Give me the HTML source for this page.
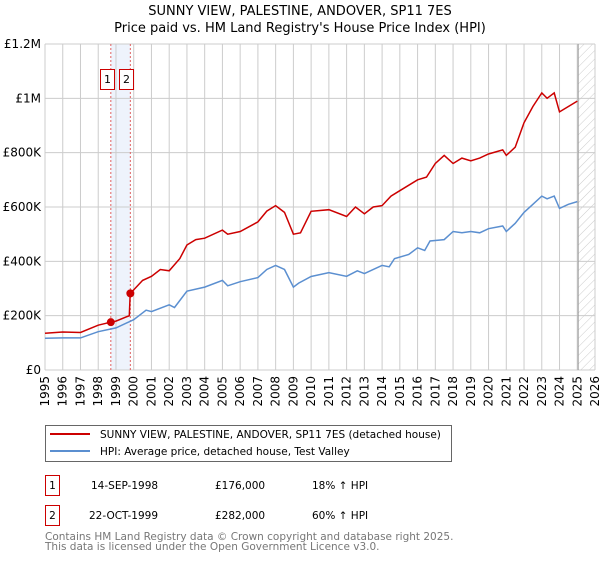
<!DOCTYPE html>
<html><head><meta charset="utf-8"><style>
body{margin:0;background:#fff;font-family:"Liberation Sans","DejaVu Sans",sans-serif}
svg text{font-family:"DejaVu Sans","Liberation Sans",sans-serif}
</style></head><body>
<svg id="chart" width="600" height="560" xmlns="http://www.w3.org/2000/svg">
<defs><pattern id="hatch" width="6" height="6" patternUnits="userSpaceOnUse" patternTransform="rotate(45)"><line x1="0" y1="0" x2="0" y2="6" stroke="#ccc" stroke-width="1"/></pattern></defs>
<text x="300" y="15" text-anchor="middle" font-size="13">SUNNY VIEW, PALESTINE, ANDOVER, SP11 7ES</text>
<text x="300" y="32" text-anchor="middle" font-size="13">Price paid vs. HM Land Registry's House Price Index (HPI)</text>
<g id="grid"></g><g id="marks"></g><g id="axes"></g>
<rect x="45.5" y="425.5" width="406" height="36" fill="#fff" stroke="#666"/>
<line x1="50" y1="434" x2="90" y2="434" stroke="#cc0000" stroke-width="2"/>
<text x="100" y="438" font-size="10.5">SUNNY VIEW, PALESTINE, ANDOVER, SP11 7ES (detached house)</text>
<line x1="50" y1="451" x2="90" y2="451" stroke="#5b8fd0" stroke-width="2"/>
<text x="100" y="455" font-size="10.5">HPI: Average price, detached house, Test Valley</text>
<g font-size="10.5">
<rect x="45.5" y="475.5" width="14" height="20" fill="#fff" stroke="#cc0000"/>
<text x="52.5" y="489" text-anchor="middle">1</text>
<text x="91" y="489">14-SEP-1998</text><text x="215" y="489">£176,000</text><text x="312" y="489">18% ↑ HPI</text></g>
<g font-size="10.5">
<rect x="45.5" y="505.5" width="14" height="20" fill="#fff" stroke="#cc0000"/>
<text x="52.5" y="519" text-anchor="middle">2</text>
<text x="89" y="519">22-OCT-1999</text><text x="215" y="519">£282,000</text><text x="312" y="519">60% ↑ HPI</text></g>
<text x="45" y="540" font-size="10.5" fill="#777">Contains HM Land Registry data © Crown copyright and database right 2025.</text>
<text x="45" y="550" font-size="10.5" fill="#777">This data is licensed under the Open Government Licence v3.0.</text>
</svg>
<script>
const yearTicks=[1995,1996,1997,1998,1999,2000,2001,2002,2003,2004,2005,2006,2007,2008,2009,2010,2011,2012,2013,2014,2015,2016,2017,2018,2019,2020,2021,2022,2023,2024,2025,2026];
const priceTicks=[0,200000,400000,600000,800000,1000000,1200000];
const priceTickLabels=["£0","£200K","£400K","£600K","£800K","£1M","£1.2M"];
const hpiYears=[1995,1996,1997,1998,1999,2000,2000.7,2001,2002,2002.3,2003,2004,2005,2005.3,2006,2007,2007.5,2008,2008.5,2009,2009.3,2010,2011,2012,2012.6,2013,2014,2014.4,2014.7,2015.5,2016,2016.4,2016.7,2017.5,2018,2018.5,2019,2019.5,2020,2020.8,2021,2021.5,2022,2022.5,2023,2023.3,2023.7,2024,2024.5,2025];
const hpiValues=[117000,118000,118000,141000,155000,185000,220000,215000,240000,230000,290000,305000,330000,310000,325000,340000,370000,385000,370000,305000,320000,344000,358000,345000,365000,355000,385000,380000,410000,425000,450000,440000,475000,480000,510000,505000,510000,505000,520000,530000,510000,540000,580000,610000,640000,630000,640000,595000,610000,620000];
const propYears=[1995,1996,1997,1998,1998.7,1999,1999.75,1999.8,2000,2000.5,2001,2001.5,2002,2002.6,2003,2003.5,2004,2005,2005.3,2006,2007,2007.5,2008,2008.5,2009,2009.4,2010,2011,2012,2012.5,2013,2013.5,2014,2014.5,2015,2016,2016.5,2017,2017.5,2018,2018.5,2019,2019.5,2020,2020.8,2021,2021.5,2022,2022.5,2023,2023.3,2023.7,2024,2024.5,2025];
const propValues=[135000,140000,138000,165000,176000,180000,200000,282000,295000,330000,345000,370000,365000,410000,460000,480000,485000,515000,500000,510000,545000,585000,605000,580000,500000,505000,584000,590000,565000,600000,575000,600000,605000,640000,660000,700000,710000,760000,790000,760000,780000,770000,780000,795000,810000,790000,820000,910000,970000,1020000,1000000,1020000,950000,970000,990000];
const saleYears=[1998.71,1999.81];
const saleValues=[176000,282000];
const saleLabels=["1","2"];
const X0=45,X1=595,Y0=370,Y1=44;
const xs=y=>X0+(y-1995)/(2026-1995)*(X1-X0);
const ys=v=>Y0-v/1200000*(Y0-Y1);
const NS="http://www.w3.org/2000/svg";
function mk(parent,tag,attrs){const e=document.createElementNS(NS,tag);for(const k in attrs)e.setAttribute(k,attrs[k]);parent.appendChild(e);return e;}
const grid=document.getElementById('grid'),marks=document.getElementById('marks'),axes=document.getElementById('axes');
let r=mk(grid,'rect',{x:xs(saleYears[0]),y:Y1,width:xs(saleYears[1])-xs(saleYears[0]),height:Y0-Y1,fill:'#eef3fc'});


let h=mk(grid,'rect',{x:xs(2025.05),y:Y1,width:X1-xs(2025.05),height:Y0-Y1,fill:'url(#hatch)'});


yearTicks.forEach(y=>{const l=mk(grid,'line',{x1:xs(y),x2:xs(y),y1:Y1,y2:Y0,stroke:'#ccc','stroke-width':1});


const t=mk(axes,'text',{x:0,y:0,'font-size':12,'text-anchor':'end',transform:`translate(${xs(y)+4},${Y0+6}) rotate(-90)`});t.textContent=y;

});
priceTicks.forEach((v,i)=>{const l=mk(grid,'line',{x1:X0,x2:X1,y1:ys(v),y2:ys(v),stroke:'#ccc','stroke-width':1});


const t=mk(axes,'text',{x:X0-4,y:ys(v)+4,'font-size':12,'text-anchor':'end'});t.textContent=priceTickLabels[i];

});
const vl=mk(grid,'line',{x1:xs(2025.05),x2:xs(2025.05),y1:Y1,y2:Y0,stroke:'#999','stroke-width':1});


saleYears.forEach((y,i)=>{const l=mk(grid,'line',{x1:xs(y),x2:xs(y),y1:Y1,y2:Y0,stroke:'#e06060','stroke-dasharray':'2,2'});


const g=mk(marks,'g',{});


const bx=Math.round(xs(y))-10.5;
mk(g,'rect',{x:bx,y:69.5,width:14,height:20,fill:'#fff',stroke:'#cc0000'});
const t=mk(g,'text',{x:bx+7,y:83,'font-size':11,'text-anchor':'middle'});t.textContent=saleLabels[i];});
const pts=(a,b)=>a.map((y,i)=>xs(y).toFixed(1)+','+ys(b[i]).toFixed(1)).join(' ');
const hp=mk(marks,'polyline',{points:pts(hpiYears,hpiValues),fill:'none',stroke:'#5b8fd0','stroke-width':1.5});


const pp=mk(marks,'polyline',{points:pts(propYears,propValues),fill:'none',stroke:'#cc0000','stroke-width':1.5});


saleYears.forEach((y,i)=>{const c=mk(marks,'circle',{cx:xs(y),cy:ys(saleValues[i]),r:4,fill:'#cc0000'});

});
</script>
</body></html>
